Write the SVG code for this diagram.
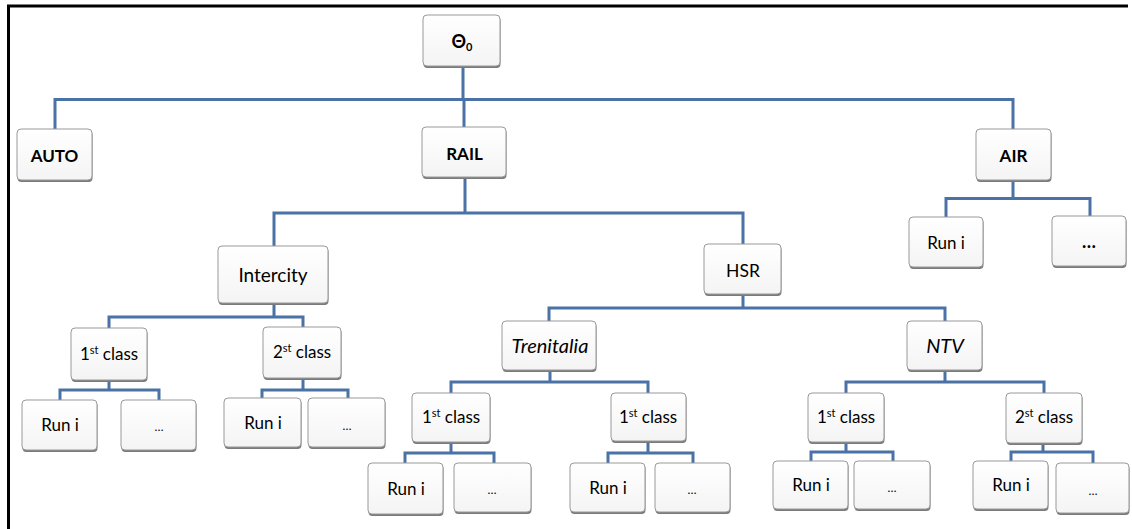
<svg xmlns="http://www.w3.org/2000/svg" width="1132" height="529" viewBox="0 0 1132 529">
<defs>
<linearGradient id="g" x1="0" y1="0" x2="0" y2="1">
<stop offset="0" stop-color="#ffffff"/>
<stop offset="1" stop-color="#f4f4f4"/>
</linearGradient>
</defs>
<style>
.frame{stroke:#000;stroke-width:3;fill:none}
.con{stroke:#4a72a6;stroke-width:3;fill:none;stroke-linejoin:miter}
.sh{fill:#7a7a7a}
.box{fill:url(#g);stroke:#999;stroke-width:1}
text{font-family:Lato,"Liberation Sans",sans-serif;font-size:17px;fill:#000;text-anchor:middle}
.b{font-weight:bold}
.i{font-style:italic;font-size:20px}
.big{font-size:19px}
.sup{font-size:11px}
.dots{font-size:12px}
.bdots{font-size:18px;font-weight:bold}
</style>
<rect width="1132" height="529" fill="#fff"/>
<path class="frame" d="M7,6 H1128 M8.5,5 V529"/>

<g id="connectors">
<path class="con" d="M463,66 V99.5 M55,129 V99.5 H1013 V129 M464,99.5 V127"/>
<path class="con" d="M1013,180 V198.5 M946,217 V198.5 H1090 V216"/>
<path class="con" d="M465,177 V213 M274,246 V213 H743 V244"/>
<path class="con" d="M274,303 V317 M109,328 V317 H303 V327"/>
<path class="con" d="M109,380 V390 M60,400 V390 H159 V400"/>
<path class="con" d="M303,378 V390 M262,398 V390 H348 V398"/>
<path class="con" d="M743,294 V308 M549,321 V308 H945 V321"/>
<path class="con" d="M550,370 V382 M451,393 V382 H648 V393"/>
<path class="con" d="M451,442 V453 M405,463 V453 H494 V463"/>
<path class="con" d="M648,441 V453 M608,463 V453 H693 V463"/>
<path class="con" d="M945,370 V382 M846,393 V382 H1044 V393"/>
<path class="con" d="M846,442 V452 M811,461 V452 H893 V461"/>
<path class="con" d="M1043,443 V452 M1011,461 V452 H1093 V463"/>
</g>

<g id="theta"><rect class="sh" x="423.5" y="17" width="77" height="51" rx="4"/><rect class="box" x="423" y="15" width="77" height="51" rx="4"/><text class="b" x="462" y="48" style="font-size:18px">Θ<tspan class="sup" dy="3">0</tspan></text></g>
<g id="auto"><rect class="sh" x="17.5" y="131" width="75" height="51" rx="4"/><rect class="box" x="17" y="129" width="75" height="51" rx="4"/><text class="b" x="54.5" y="162">AUTO</text></g>
<g id="rail"><rect class="sh" x="422.5" y="129" width="84" height="50" rx="4"/><rect class="box" x="422" y="127" width="84" height="50" rx="4"/><text class="b" x="464.5" y="160">RAIL</text></g>
<g id="air"><rect class="sh" x="976.5" y="131" width="75" height="51" rx="4"/><rect class="box" x="976" y="129" width="75" height="51" rx="4"/><text class="b" x="1013.5" y="162">AIR</text></g>

<g id="air-run"><rect class="sh" x="909.5" y="219" width="74" height="50" rx="4"/><rect class="box" x="909" y="217" width="74" height="50" rx="4"/><text x="946" y="249">Run i</text></g>
<g id="air-more"><rect class="sh" x="1052.5" y="218" width="74" height="50" rx="4"/><rect class="box" x="1052" y="216" width="74" height="50" rx="4"/><text class="bdots" x="1089" y="248">…</text></g>

<g id="intercity"><rect class="sh" x="218.5" y="248" width="110" height="57" rx="4"/><rect class="box" x="218" y="246" width="110" height="57" rx="4"/><text class="big" x="273" y="282">Intercity</text></g>
<g id="hsr"><rect class="sh" x="704.5" y="246" width="77" height="50" rx="4"/><rect class="box" x="704" y="244" width="77" height="50" rx="4"/><text x="743" y="277" style="font-size:17.5px">HSR</text></g>

<g id="ic-1st"><rect class="sh" x="71.5" y="330" width="76" height="52" rx="4"/><rect class="box" x="71" y="328" width="76" height="52" rx="4"/><text x="109" y="360">1<tspan class="sup" dy="-6">st</tspan><tspan dy="6"> class</tspan></text></g>
<g id="ic-2nd"><rect class="sh" x="263.5" y="329" width="78" height="51" rx="4"/><rect class="box" x="263" y="327" width="78" height="51" rx="4"/><text x="302" y="358">2<tspan class="sup" dy="-6">st</tspan><tspan dy="6"> class</tspan></text></g>

<g id="ic1-run"><rect class="sh" x="22.5" y="402" width="75" height="50" rx="4"/><rect class="box" x="22" y="400" width="75" height="50" rx="4"/><text x="60" y="431">Run i</text></g>
<g id="ic1-more"><rect class="sh" x="121.5" y="402" width="75" height="50" rx="4"/><rect class="box" x="121" y="400" width="75" height="50" rx="4"/><text class="dots" x="159" y="431">…</text></g>
<g id="ic2-run"><rect class="sh" x="224.5" y="400" width="77" height="49" rx="4"/><rect class="box" x="224" y="398" width="77" height="49" rx="4"/><text x="263" y="429">Run i</text></g>
<g id="ic2-more"><rect class="sh" x="308.5" y="400" width="77" height="49" rx="4"/><rect class="box" x="308" y="398" width="77" height="49" rx="4"/><text class="dots" x="347" y="430">…</text></g>

<g id="trenitalia"><rect class="sh" x="502.5" y="323" width="94" height="49" rx="4"/><rect class="box" x="502" y="321" width="94" height="49" rx="4"/><text class="i" x="550" y="353">Trenitalia</text></g>
<g id="ntv"><rect class="sh" x="907.5" y="323" width="75" height="49" rx="4"/><rect class="box" x="907" y="321" width="75" height="49" rx="4"/><text class="i" x="945" y="353">NTV</text></g>

<g id="tr-1st-a"><rect class="sh" x="412.5" y="395" width="78" height="49" rx="4"/><rect class="box" x="412" y="393" width="78" height="49" rx="4"/><text x="451" y="423">1<tspan class="sup" dy="-6">st</tspan><tspan dy="6"> class</tspan></text></g>
<g id="tr-1st-b"><rect class="sh" x="611.5" y="395" width="75" height="48" rx="4"/><rect class="box" x="611" y="393" width="75" height="48" rx="4"/><text x="648" y="423">1<tspan class="sup" dy="-6">st</tspan><tspan dy="6"> class</tspan></text></g>

<g id="tra-run"><rect class="sh" x="368.5" y="465" width="75" height="51" rx="4"/><rect class="box" x="368" y="463" width="75" height="51" rx="4"/><text x="406" y="495">Run i</text></g>
<g id="tra-more"><rect class="sh" x="454.5" y="465" width="77" height="49" rx="4"/><rect class="box" x="454" y="463" width="77" height="49" rx="4"/><text class="dots" x="492" y="494">…</text></g>
<g id="trb-run"><rect class="sh" x="570.5" y="465" width="75" height="49" rx="4"/><rect class="box" x="570" y="463" width="75" height="49" rx="4"/><text x="608" y="494">Run i</text></g>
<g id="trb-more"><rect class="sh" x="655.5" y="465" width="75" height="49" rx="4"/><rect class="box" x="655" y="463" width="75" height="49" rx="4"/><text class="dots" x="692" y="494">…</text></g>

<g id="ntv-1st"><rect class="sh" x="808.5" y="395" width="76" height="49" rx="4"/><rect class="box" x="808" y="393" width="76" height="49" rx="4"/><text x="846" y="423">1<tspan class="sup" dy="-6">st</tspan><tspan dy="6"> class</tspan></text></g>
<g id="ntv-2nd"><rect class="sh" x="1006.5" y="395" width="76" height="50" rx="4"/><rect class="box" x="1006" y="393" width="76" height="50" rx="4"/><text x="1044" y="423">2<tspan class="sup" dy="-6">st</tspan><tspan dy="6"> class</tspan></text></g>

<g id="ntv1-run"><rect class="sh" x="773.5" y="463" width="75" height="48" rx="4"/><rect class="box" x="773" y="461" width="75" height="48" rx="4"/><text x="811" y="491">Run i</text></g>
<g id="ntv1-more"><rect class="sh" x="854.5" y="463" width="76" height="48" rx="4"/><rect class="box" x="854" y="461" width="76" height="48" rx="4"/><text class="dots" x="892" y="492">…</text></g>
<g id="ntv2-run"><rect class="sh" x="973.5" y="463" width="75" height="48" rx="4"/><rect class="box" x="973" y="461" width="75" height="48" rx="4"/><text x="1011" y="491">Run i</text></g>
<g id="ntv2-more"><rect class="sh" x="1056.5" y="465" width="73" height="50" rx="4"/><rect class="box" x="1056" y="463" width="73" height="50" rx="4"/><text class="dots" x="1093" y="495">…</text></g>
</svg>
